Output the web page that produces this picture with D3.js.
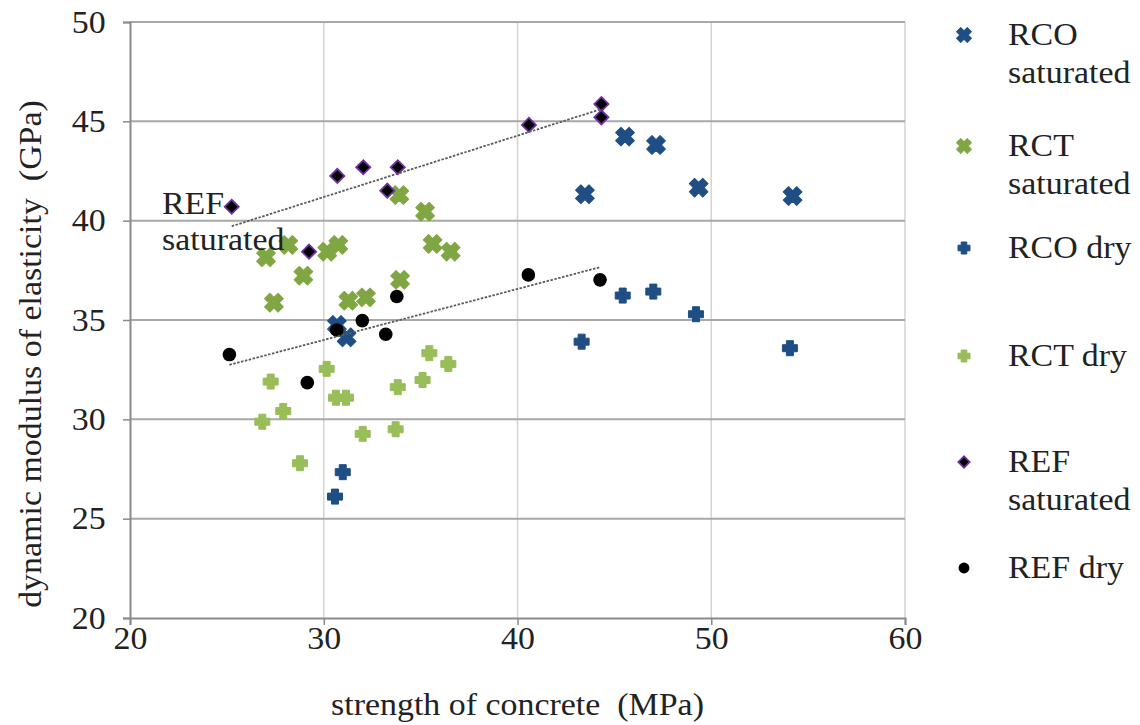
<!DOCTYPE html>
<html>
<head>
<meta charset="utf-8">
<script src="https://cdn.jsdelivr.net/npm/d3@7"></script>
<style>
  html, body { margin: 0; padding: 0; background: #fff; }
  svg { display: block; }
  text { font-family: "Liberation Serif", "DejaVu Serif", "Times New Roman", serif; fill: #222; white-space: pre; }
</style>
</head>
<body>
<svg id="chart" width="1140" height="725"></svg>
<script>
// ---- data (x = strength of concrete MPa, y = dynamic modulus GPa) ----
const rcoSatX = [30.68, 31.18, 43.48, 45.55, 47.15, 49.35, 54.20];
const rcoSatY = [34.75, 34.13, 41.33, 44.23, 43.81, 41.66, 41.24];

const rctSatX = [33.90, 35.23, 28.17, 27.02, 30.75, 30.18, 35.62, 36.55, 28.95, 33.94, 27.43, 31.27, 32.18];
const rctSatY = [41.29, 40.45, 38.78, 38.16, 38.78, 38.44, 38.83, 38.44, 37.23, 37.02, 35.87, 35.97, 36.14];

const rcoDryX = [30.98, 30.58, 43.31, 45.43, 47.01, 49.21, 54.06];
const rcoDryY = [27.34, 26.11, 33.91, 36.23, 36.43, 35.29, 33.58];

const rctDryX = [27.26, 27.91, 26.83, 28.77, 30.15, 30.63, 31.15, 32.01, 33.82, 33.71, 35.10, 35.45, 36.43];
const rctDryY = [31.90, 30.42, 29.88, 27.79, 32.54, 31.09, 31.09, 29.27, 31.62, 29.50, 31.98, 33.33, 32.79];

const refSatX = [25.25, 30.70, 32.04, 33.82, 33.28, 29.24, 40.59, 44.33, 44.33];
const refSatY = [40.70, 42.25, 42.69, 42.69, 41.51, 38.44, 44.82, 45.87, 45.20];

const refDryX = [25.13, 29.15, 30.67, 31.99, 33.20, 33.77, 40.56, 44.26];
const refDryY = [33.26, 31.85, 34.50, 34.97, 34.28, 36.18, 37.27, 37.02];

const xTicks = [20, 30, 40, 50, 60];
const yTicks = [20, 25, 30, 35, 40, 45, 50];
const xTitle = "strength of concrete  (MPa)";
const yTitle = "dynamic modulus of elasticity  (GPa)";
const seriesNames = [["RCO", "saturated"], ["RCT", "saturated"], ["RCO dry"], ["RCT dry"], ["REF", "saturated"], ["REF dry"]];
const annotation = ["REF", "saturated"];

// ---- layout ----
const FONT = "'Liberation Serif', 'DejaVu Serif', serif";
const svg = d3.select("#chart");
const x = d3.scaleLinear().domain([20, 60]).range([130, 905]);
const y = d3.scaleLinear().domain([20, 50]).range([618, 22]);
const FS = 32;
const SX = 1.06; // horizontal stretch of text, as in the reference

const BLUE = "#1f4e84";
const GREEN_X = "#80a643";
const GREEN_P = "#98bd59";
const PURPLE = "#7030a0";

// gridlines
svg.append("g").selectAll("line.vg").data(xTicks.slice(1)).join("line")
  .attr("x1", d => x(d)).attr("x2", d => x(d)).attr("y1", y(50)).attr("y2", y(20))
  .attr("stroke", "#d4d4d4").attr("stroke-width", 1.5);
svg.append("g").selectAll("line.hg").data(yTicks.slice(1)).join("line")
  .attr("x1", x(20)).attr("x2", x(60)).attr("y1", d => y(d)).attr("y2", d => y(d))
  .attr("stroke", "#a8a8a8").attr("stroke-width", 2);

// axes
const xAxis = svg.append("g").attr("transform", `translate(0,${y(20)})`)
  .call(d3.axisBottom(x).tickValues(xTicks).tickSize(7).tickPadding(0).tickFormat(d3.format("d")));
const yAxis = svg.append("g").attr("transform", `translate(${x(20)},0)`)
  .call(d3.axisLeft(y).tickValues(yTicks).tickSize(7).tickPadding(16).tickFormat(d3.format("d")));
[xAxis, yAxis].forEach(g => {
  g.attr("font-family", FONT);
  g.select(".domain").attr("stroke", "#8a8a8a").attr("stroke-width", 2);
  g.selectAll(".tick line").attr("stroke", "#8a8a8a").attr("stroke-width", 1.5);
  g.selectAll(".tick text").attr("font-size", FS).attr("font-family", FONT).attr("fill", "#222")
    .attr("transform", `scale(${SX},1)`);
});
xAxis.selectAll(".tick text").attr("dy", "0.75em");

// text helper with horizontal stretch
function label(px, py, str, anchor, rot) {
  const g = svg.append("g").attr("transform", `translate(${px},${py})${rot ? ` rotate(${rot})` : ""} scale(${SX},1)`);
  return g.append("text").attr("font-size", FS).attr("font-family", FONT)
    .attr("text-anchor", anchor || "start").text(str);
}

// axis titles
label((x(20) + x(60)) / 2, 715, xTitle, "middle");
label(41, 354, yTitle, "middle", -90);

// marker drawing helpers: chunky cross of total size s and arm width w
function crossD(s, w) {
  const a = s / 2, b = w / 2;
  return `M${-b},${-a}L${b},${-a}L${b},${-b}L${a},${-b}L${a},${b}L${b},${b}L${b},${a}L${-b},${a}L${-b},${b}L${-a},${b}L${-a},${-b}L${-b},${-b}Z`;
}
const squarePath = s => d3.symbol().type(d3.symbolSquare).size(s * s)();
function marker(g, kind, color, cx, cy, scale) {
  if (kind === "X") {
    g.append("path").attr("d", crossD(19 * scale, 7.5 * scale)).attr("transform", `translate(${cx},${cy}) rotate(45)`)
      .attr("fill", color).attr("stroke", color).attr("stroke-width", 1).attr("stroke-linejoin", "round");
  } else if (kind === "P") {
    g.append("path").attr("d", crossD(15 * scale, 7 * scale)).attr("transform", `translate(${cx},${cy})`)
      .attr("fill", color).attr("stroke", color).attr("stroke-width", 1).attr("stroke-linejoin", "round");
  } else if (kind === "D") {
    g.append("path").attr("d", squarePath(10 * scale)).attr("transform", `translate(${cx},${cy}) rotate(45)`)
      .attr("fill", "#000").attr("stroke", PURPLE).attr("stroke-width", 1.8);
  } else if (kind === "C") {
    g.append("circle").attr("cx", cx).attr("cy", cy).attr("r", 6.8 * scale).attr("fill", "#000");
  }
}

const series = [
  { xs: rcoSatX, ys: rcoSatY, kind: "X", color: BLUE },
  { xs: rctSatX, ys: rctSatY, kind: "X", color: GREEN_X },
  { xs: rcoDryX, ys: rcoDryY, kind: "P", color: BLUE },
  { xs: rctDryX, ys: rctDryY, kind: "P", color: GREEN_P },
  { xs: refSatX, ys: refSatY, kind: "D", color: PURPLE },
  { xs: refDryX, ys: refDryY, kind: "C", color: "#000" }
];

series.forEach(s => {
  const g = svg.append("g");
  s.xs.forEach((xv, i) => marker(g, s.kind, s.color, x(xv), y(s.ys[i]), 1));
});

// linear trendlines for REF series (least squares)
function trend(xs, ys) {
  const n = xs.length, mx = d3.mean(xs), my = d3.mean(ys);
  let sxy = 0, sxx = 0;
  for (let i = 0; i < n; i++) { sxy += (xs[i] - mx) * (ys[i] - my); sxx += (xs[i] - mx) ** 2; }
  const b = sxy / sxx, a = my - b * mx;
  const x0 = d3.min(xs), x1 = d3.max(xs);
  return [[x0, a + b * x0], [x1, a + b * x1]];
}
[[refSatX, refSatY], [refDryX, refDryY]].forEach(([xs, ys]) => {
  const t = trend(xs, ys);
  svg.append("line")
    .attr("x1", x(t[0][0])).attr("y1", y(t[0][1])).attr("x2", x(t[1][0])).attr("y2", y(t[1][1]))
    .attr("stroke", "#5a5a5a").attr("stroke-width", 1.8).attr("stroke-dasharray", "2.5,1.5");
});

// annotation
label(162, 214, annotation[0]);
label(162, 250, annotation[1]);

// legend
const legY = [35, 146, 248, 356, 462, 568];
const legKinds = ["X", "X", "P", "P", "D", "C"];
const legColors = [BLUE, GREEN_X, BLUE, GREEN_P, PURPLE, "#000"];
seriesNames.forEach((lines, i) => {
  const g = svg.append("g");
  const cy = legY[i];
  marker(g, legKinds[i], legColors[i], 964, cy, 0.8);
  lines.forEach((ln, j) => label(1008, cy + 10 + j * 38, ln));
});
</script>
</body>
</html>
